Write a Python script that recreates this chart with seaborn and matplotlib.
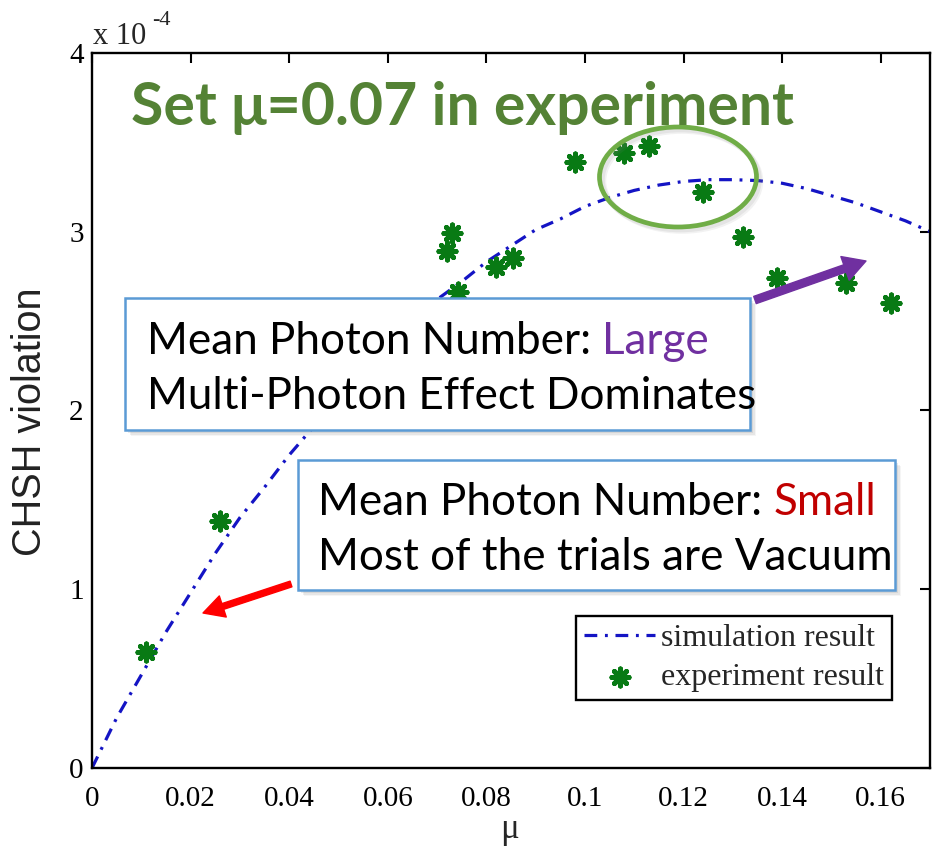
import matplotlib
matplotlib.use("Agg")
import matplotlib.pyplot as plt
import seaborn as sns
from matplotlib.patches import Rectangle, Ellipse, FancyArrowPatch, ArrowStyle

# Simulated CHSH violation (in units of 1e-4) versus mean photon number mu
mu_sim = [0, 0.005, 0.01, 0.015, 0.02, 0.025, 0.03, 0.035, 0.04, 0.045, 0.05,
          0.055, 0.06, 0.065, 0.07, 0.075, 0.08, 0.085, 0.09, 0.095, 0.10,
          0.105, 0.11, 0.115, 0.12, 0.125, 0.13, 0.135, 0.14, 0.145, 0.15,
          0.155, 0.16, 0.165, 0.17]
chsh_sim = [0, 0.28, 0.52, 0.76, 0.98, 1.20, 1.40, 1.57, 1.75, 1.91, 2.07,
            2.21, 2.35, 2.48, 2.62, 2.72, 2.83, 2.92, 3.01, 3.07, 3.14,
            3.19, 3.23, 3.26, 3.28, 3.29, 3.29, 3.285, 3.27, 3.24, 3.20,
            3.16, 3.11, 3.06, 3.00]

# Measured CHSH violation (in units of 1e-4)
mu_exp = [0.011, 0.026, 0.072, 0.073, 0.0743, 0.082, 0.0855, 0.098, 0.108,
          0.113, 0.124, 0.132, 0.139, 0.153, 0.162]
chsh_exp = [0.65, 1.38, 2.89, 2.99, 2.66, 2.80, 2.85, 3.39, 3.44, 3.48, 3.22,
            2.97, 2.74, 2.71, 2.60]

x_ticks = [0, 0.02, 0.04, 0.06, 0.08, 0.10, 0.12, 0.14, 0.16]
x_tick_labels = ["0", "0.02", "0.04", "0.06", "0.08", "0.1", "0.12", "0.14", "0.16"]
y_ticks = [0, 1, 2, 3, 4]
y_tick_labels = ["0", "1", "2", "3", "4"]

sns.set_theme(style="white")
plt.rcParams["font.family"] = ["Liberation Serif", "DejaVu Serif"]

W, H = 932, 852
fig = plt.figure(figsize=(W / 100, H / 100), dpi=100)
renderer = fig.canvas.get_renderer()


def fx(px):
    return px / W


def fy(py):
    return 1 - py / H


ax = fig.add_axes([fx(92), fy(768), fx(930) - fx(92), fy(52.7) - fy(768)])

sns.lineplot(x=mu_sim, y=chsh_sim, ax=ax, color="#1414c4", lw=2.3,
             linestyle=(0, (4.0, 2.4, 0.9, 2.4)), label="simulation result")
sns.scatterplot(x=mu_exp, y=chsh_exp, ax=ax, marker=(8, 2, 0), s=150,
                color="#087a14", edgecolor="#087a14", linewidth=3.6,
                label="experiment result", zorder=3)

ax.set_xlim(0, 0.17)
ax.set_ylim(0, 4)
ax.set_xticks(x_ticks)
ax.set_xticklabels(x_tick_labels)
ax.set_yticks(y_ticks)
ax.set_yticklabels(y_tick_labels)
ax.tick_params(direction="in", length=7, width=1.5, top=True, right=True,
               labelsize=21, colors="black")
ax.tick_params(axis="x", pad=13)
ax.tick_params(axis="y", pad=6)
for sp in ax.spines.values():
    sp.set_color("black")
    sp.set_linewidth(1.7)
ax.set_xlabel("")
ax.set_ylabel("")

leg = ax.legend(loc="lower right", bbox_to_anchor=(0.9547, 0.095),
                fancybox=False, framealpha=1, edgecolor="black",
                prop={"family": "Liberation Serif", "size": 23},
                handlelength=2.2, handletextpad=0.2, borderpad=0.25,
                labelspacing=0.3, borderaxespad=0)
leg.get_frame().set_linewidth(1.7)

# axis labels and exponent
fig.text(fx(510), fy(830), "\u03bc", ha="center", va="center", fontsize=25,
         family="Liberation Serif")
fig.text(fx(30), fy(422), "CHSH violation", rotation=90, ha="center",
         va="center", fontsize=28.5, family="Liberation Sans", color="#222222")
fig.text(fx(93), fy(44), "x 10", ha="left", va="baseline", fontsize=22,
         family="Liberation Serif")
fig.text(fx(152), fy(25), "-4", ha="left", va="baseline", fontsize=16,
         family="Liberation Serif")


def width_px(s, size, **kw):
    t = fig.text(0, 0, s, fontsize=size, **kw)
    w = t.get_window_extent(renderer).width
    t.remove()
    return w


def fit(s, target, **kw):
    return 20 * target / width_px(s, 20, **kw)


# headline
hsize = fit("Set \u03bc=0.07 in experiment", 664, family="Lato", weight="bold")
fig.text(fx(131), fy(125), "Set \u03bc=0.07 in experiment", fontsize=hsize,
         family="Lato", weight="bold", color="#548235", va="baseline")

# highlight ellipse
for k, a in [(4, 0.10), (2.5, 0.12)]:
    fig.add_artist(Ellipse((fx(678 + k), fy(177 + k)), 157 / W, 100 / H,
                           transform=fig.transFigure, fill=False,
                           edgecolor="gray", lw=4, alpha=a))
fig.add_artist(Ellipse((fx(678), fy(177)), 157 / W, 100 / H,
                       transform=fig.transFigure, fill=False,
                       edgecolor="#70AD47", lw=3.4))


def callout(x0, y0, x1, y1):
    for k, a in [(6, 0.08), (4.5, 0.12), (3, 0.16)]:
        fig.add_artist(Rectangle((fx(x0 + k), fy(y1 + k)), (x1 - x0) / W,
                                 (y1 - y0) / H, transform=fig.transFigure,
                                 facecolor="gray", edgecolor="none", alpha=a))
    fig.add_artist(Rectangle((fx(x0), fy(y1)), (x1 - x0) / W, (y1 - y0) / H,
                             transform=fig.transFigure, facecolor="white",
                             edgecolor="#5B9BD5", lw=1.8))


def two_tone(x, y, first, second, color, size):
    t = fig.text(fx(x), fy(y), first, fontsize=size, family="Lato",
                 va="baseline", color="black")
    w = t.get_window_extent(renderer).width
    fig.text(fx(x + w), fy(y), second, fontsize=size, family="Lato",
             va="baseline", color=color)


callout(125, 298, 750, 430)
bsize = fit("Mean Photon Number: Large", 563, family="Lato")
two_tone(147, 354, "Mean Photon Number: ", "Large", "#7030A0", bsize)
fig.text(fx(147), fy(409), "Multi-Photon Effect Dominates", fontsize=bsize,
         family="Lato", va="baseline", color="black")

callout(298, 460, 895, 590)
two_tone(318, 515, "Mean Photon Number: ", "Small", "#C00000", bsize)
fig.text(fx(318), fy(570), "Most of the trials are Vacuum", fontsize=bsize,
         family="Lato", va="baseline", color="black")

# arrows
fig.add_artist(FancyArrowPatch(
    (fx(755), fy(300)), (fx(866), fy(261)), transform=fig.transFigure,
    arrowstyle=ArrowStyle("simple", head_length=16, head_width=18,
                          tail_width=5.5),
    mutation_scale=1, color="#7030A0", shrinkA=0, shrinkB=0))
fig.add_artist(FancyArrowPatch(
    (fx(291), fy(584)), (fx(203), fy(613)), transform=fig.transFigure,
    arrowstyle=ArrowStyle("simple", head_length=15, head_width=16,
                          tail_width=4.3),
    mutation_scale=1, color="#FF0000", shrinkA=0, shrinkB=0))

fig.savefig("out.png", dpi=100)
